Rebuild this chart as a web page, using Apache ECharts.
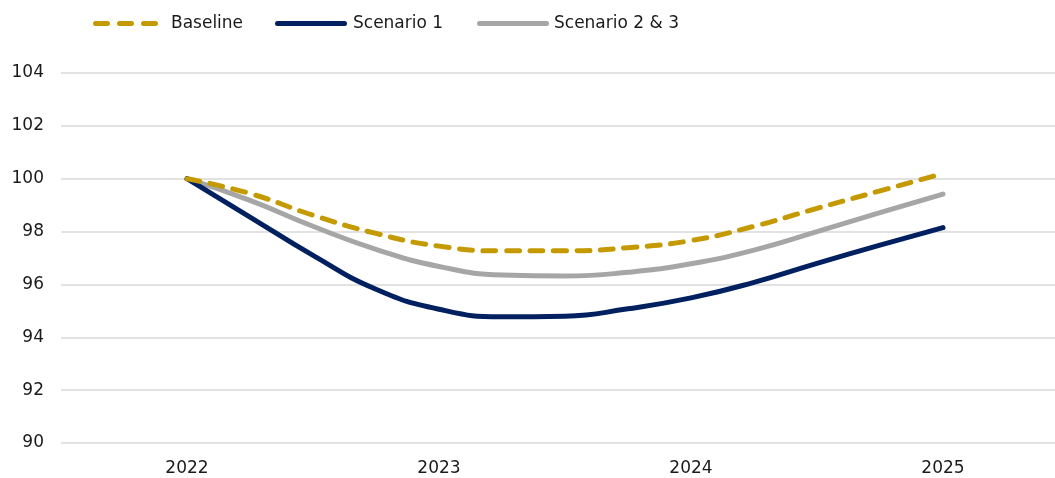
<!DOCTYPE html>
<html>
<head>
<meta charset="utf-8">
<title>Scenario index</title>
<script src="https://cdn.jsdelivr.net/npm/echarts@6/dist/echarts.min.js"></script>
<style>
  html, body { margin: 0; padding: 0; background: #ffffff; }
  #chart { width: 1055px; height: 478px; }
</style>
</head>
<body>
<div id="chart"></div>
<script>
// Quarterly index values, 2022 = 100
const quarters = [2022, 2022.25, 2022.5, 2022.75, 2023, 2023.25, 2023.5, 2023.75,
                  2024, 2024.25, 2024.5, 2024.75, 2025];
const yearTicks = [2022, 2023, 2024, 2025];
const baseline   = [100, 99.44, 98.62, 97.93, 97.45, 97.27, 97.27, 97.39, 97.66, 98.20, 98.88, 99.54, 100.2];
const scenario1  = [100, 98.55, 97.10, 95.82, 95.06, 94.78, 94.80, 95.08, 95.49, 96.08, 96.80, 97.49, 98.15];
const scenario23 = [100, 99.18, 98.20, 97.33, 96.68, 96.36, 96.32, 96.46, 96.78, 97.30, 98.00, 98.72, 99.42];

const FONT = 'DejaVu Sans';
const TEXT_COLOR = '#1a1a1a';
const GOLD = '#c49a00';
const NAVY = '#002060';
const GREY = '#a6a6a6';

// Legend keys: three rounded dashes, or one rounded bar
const DASHED_KEY = 'path://M2.5,0h12a2.5,2.5 0 0 1 0,5h-12a2.5,2.5 0 0 1 0,-5z' +
                   'M26.5,0h12a2.5,2.5 0 0 1 0,5h-12a2.5,2.5 0 0 1 0,-5z' +
                   'M50.5,0h12a2.5,2.5 0 0 1 0,5h-12a2.5,2.5 0 0 1 0,-5z';
const SOLID_KEY = 'path://M2.5,0h67a2.5,2.5 0 0 1 0,5h-67a2.5,2.5 0 0 1 0,-5z';

function pairs(values) {
  return quarters.map((q, i) => [q, values[i]]);
}

function legendAt(name, left, icon, width, textPad) {
  return {
    data: [{ name: name, icon: icon }],
    left: left,
    top: 10,
    itemWidth: width,
    itemHeight: 5,
    itemGap: 0,
    textStyle: { fontFamily: FONT, fontSize: 17, color: TEXT_COLOR, padding: [0, 0, 0, textPad] },
    selectedMode: false
  };
}

const chart = echarts.init(document.getElementById('chart'), null, { renderer: 'canvas' });

chart.setOption({
  animation: false,
  backgroundColor: '#ffffff',
  legend: [
    legendAt('Baseline', 88, DASHED_KEY, 65, 8),
    legendAt('Scenario 1', 270, SOLID_KEY, 72, 1),
    legendAt('Scenario 2 & 3', 472, SOLID_KEY, 72, 0)
  ],
  grid: {
    left: 61,
    right: -14,
    top: 73,
    bottom: 35,
    containLabel: false,
    outerBoundsMode: 'none'
  },
  xAxis: {
    type: 'value',
    min: 2021.5,
    max: 2025.5,
    axisLine: { show: false },
    axisTick: { show: false },
    axisLabel: {
      customValues: yearTicks,
      fontFamily: FONT, fontSize: 17, color: TEXT_COLOR, margin: 17,
      formatter: v => String(v)
    },
    splitLine: { show: false }
  },
  yAxis: {
    type: 'value',
    min: 90,
    max: 104,
    interval: 2,
    axisLine: { show: false },
    axisTick: { show: false },
    axisLabel: { fontFamily: FONT, fontSize: 17, color: TEXT_COLOR, margin: 17 },
    splitLine: { lineStyle: { color: '#d9d9d9', width: 1.5 } }
  },
  series: [
    {
      name: 'Baseline',
      type: 'line',
      data: pairs(baseline),
      smooth: 0.5,
      symbol: 'none',
      color: GOLD,
      lineStyle: { width: 5, type: [13, 10.5], cap: 'round', color: GOLD },
      z: 3
    },
    {
      name: 'Scenario 1',
      type: 'line',
      data: pairs(scenario1),
      smooth: 0.5,
      symbol: 'none',
      color: NAVY,
      lineStyle: { width: 5, cap: 'round', color: NAVY },
      z: 2
    },
    {
      name: 'Scenario 2 & 3',
      type: 'line',
      data: pairs(scenario23),
      smooth: 0.5,
      symbol: 'none',
      color: GREY,
      lineStyle: { width: 5, cap: 'round', color: GREY },
      z: 1
    }
  ]
});
</script>
</body>
</html>
